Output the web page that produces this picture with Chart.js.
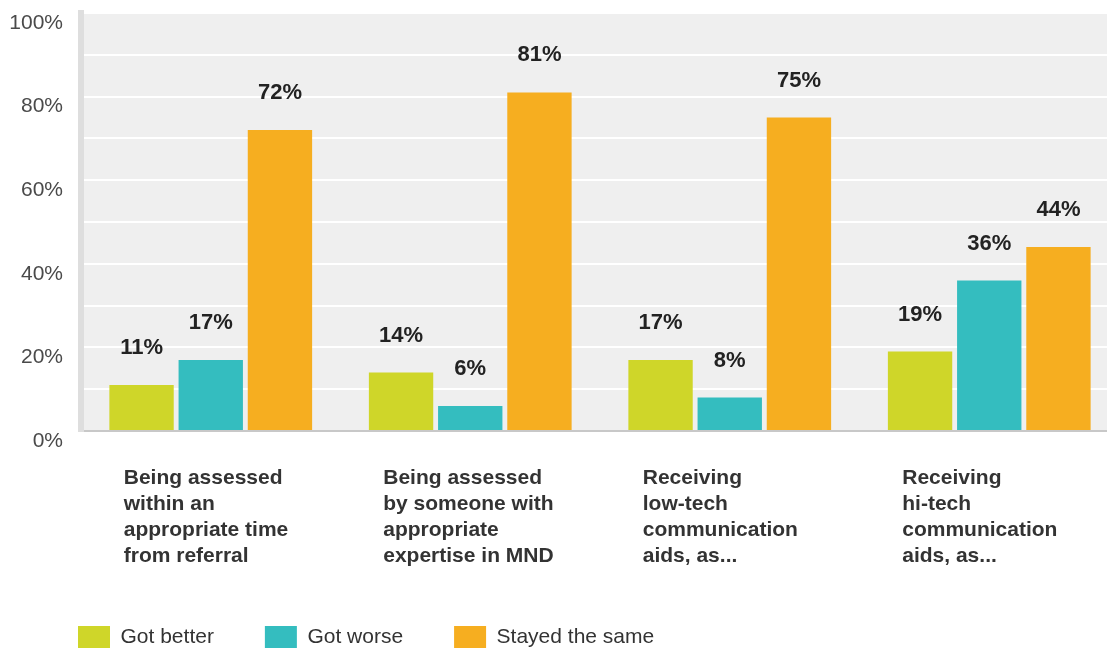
<!DOCTYPE html>
<html>
<head>
<meta charset="utf-8">
<script src="https://cdn.jsdelivr.net/npm/chart.js@4"></script>
<style>
  html, body { margin: 0; padding: 0; background: #fff; overflow: hidden; }
  #wrap { position: relative; width: 1125px; height: 658px; }
</style>
</head>
<body>
<div id="wrap"><canvas id="chart"></canvas></div>
<script>
// --- DATA ---
const categories = [
    ['Being assessed', 'within an', 'appropriate time', 'from referral'],
    ['Being assessed', 'by someone with', 'appropriate', 'expertise in MND'],
    ['Receiving', 'low-tech', 'communication', 'aids, as...'],
    ['Receiving', 'hi-tech', 'communication', 'aids, as...']
];
const seriesNames = ['Got better', 'Got worse', 'Stayed the same'];
const gotBetter = [11, 14, 17, 19];
const gotWorse = [17, 6, 8, 36];
const stayedSame = [72, 81, 75, 44];
const seriesColors = ['#cfd629', '#34bdbf', '#f6ae20'];

// plot background
const plotBg = {
    id: 'plotBg',
    beforeDraw(chart) {
        const a = chart.chartArea;
        chart.ctx.save();
        chart.ctx.fillStyle = '#efefef';
        chart.ctx.fillRect(a.left, a.top, a.right - a.left, a.bottom - a.top);
        chart.ctx.restore();
    }
};

// legend starts under the plot, not at the canvas edge
const legendShift = {
    id: 'legendShift',
    afterLayout(chart) {
        if (chart.legend) chart.legend.left = 27;
    }
};

// value labels above bars
const valueLabels = {
    id: 'valueLabels',
    afterDatasetsDraw(chart) {
        const ctx = chart.ctx;
        ctx.save();
        ctx.font = 'bold 22px "Liberation Sans", Arial, sans-serif';
        ctx.fillStyle = '#222';
        ctx.textAlign = 'center';
        ctx.textBaseline = 'middle';
        chart.data.datasets.forEach((ds, i) => {
            chart.getDatasetMeta(i).data.forEach((bar, j) => {
                ctx.fillText(ds.data[j] + '%', bar.x, bar.y - 37);
            });
        });
        ctx.restore();
    }
};

new Chart(document.getElementById('chart'), {
    type: 'bar',
    data: {
        labels: categories,
        datasets: [
            { label: seriesNames[0], data: gotBetter, backgroundColor: seriesColors[0] },
            { label: seriesNames[1], data: gotWorse, backgroundColor: seriesColors[1] },
            { label: seriesNames[2], data: stayedSame, backgroundColor: seriesColors[2] }
        ]
    },
    options: {
        responsive: true,
        maintainAspectRatio: false,
        animation: false,
        categoryPercentage: 0.8,
        barPercentage: 0.93,
        layout: { padding: { top: 13, left: 0, right: 6, bottom: 0 } },
        plugins: {
            tooltip: { enabled: false },
            legend: {
                position: 'bottom',
                align: 'start',
                labels: {
                    boxWidth: 32,
                    boxHeight: 22,
                    padding: 51,
                    color: '#333',
                    font: { family: '"Liberation Sans", Arial, sans-serif', size: 21 }
                }
            }
        },
        scales: {
            x: {
                grid: { display: false },
                border: { display: true, color: '#c8c8c8', width: 2 },
                ticks: {
                    align: 'start',
                    labelOffset: -87,
                    padding: 26,
                    maxRotation: 0,
                    autoSkip: false,
                    color: '#333',
                    font: { family: '"Liberation Sans", Arial, sans-serif', size: 21, weight: 'bold', lineHeight: 1.24 }
                },
                afterFit(scale) {
                    scale.height = 144;
                    scale.paddingLeft = 0;
                    scale.paddingRight = 0;
                }
            },
            y: {
                min: 0,
                max: 100,
                grid: { color: '#ffffff', lineWidth: 2, drawTicks: false },
                border: { display: true, color: '#dedede', width: 6 },
                ticks: {
                    stepSize: 10,
                    padding: 18,
                    labelOffset: 10,
                    color: '#4a4a4a',
                    font: { family: '"Liberation Sans", Arial, sans-serif', size: 21 },
                    callback: v => (v % 20 === 0 ? v + '%' : '')
                },
                afterFit(scale) {
                    scale.width = 81;
                    scale.paddingTop = 0;
                    scale.paddingBottom = 0;
                }
            }
        }
    },
    plugins: [plotBg, legendShift, valueLabels]
});
</script>
</body>
</html>
